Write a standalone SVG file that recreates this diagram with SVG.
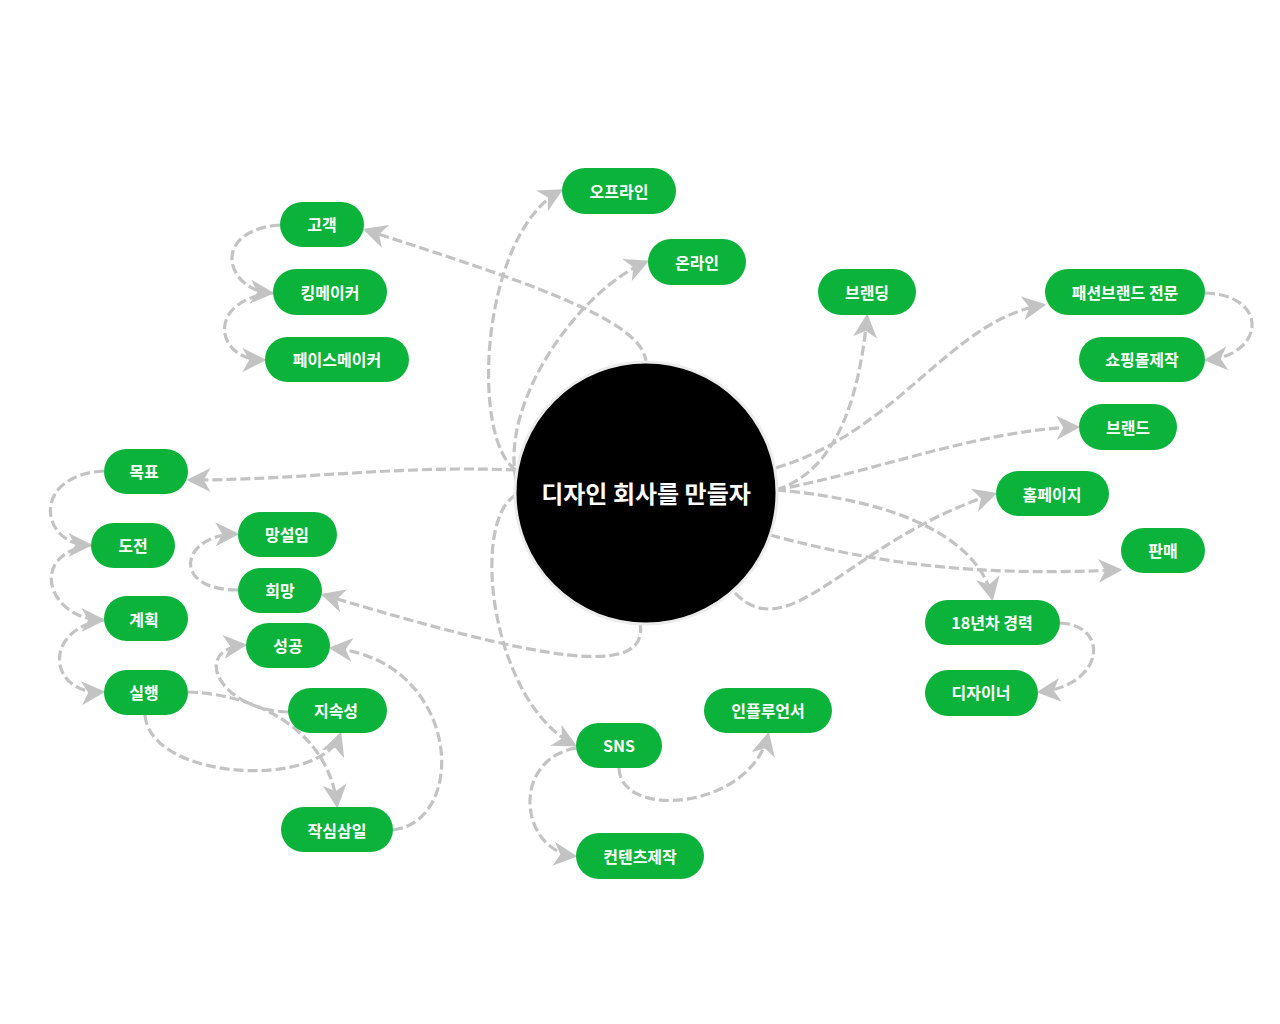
<svg xmlns="http://www.w3.org/2000/svg" width="1280" height="1024" viewBox="0 0 1280 1024">
<defs>
<style>
.n rect{fill:#0bb33a}
.n text{fill:#fff;font-family:"Noto Sans CJK KR","Noto Sans",sans-serif;font-weight:700;font-size:16px;text-anchor:middle;dominant-baseline:central}
.c path{fill:none;stroke:#c3c3c3;stroke-width:3.2;stroke-dasharray:10 4;marker-end:url(#ah)}
</style>
<marker id="ah" viewBox="0 0 14 14" refX="12" refY="7" markerWidth="7.5" markerHeight="7.5" markerUnits="strokeWidth" orient="auto">
<path d="M0,0 L14,7 L0,14 L4,7 z" fill="#c3c3c3"/>
</marker>
</defs>
<rect width="1280" height="1024" fill="#fff"/>
<g class="c" id="connectors">
<path d="M646,363 C646,320 520,280 366,230"/>
<path d="M516,470 C470,440 480,235 560,191"/>
<path d="M516,480 C500,400 580,290 646,262"/>
<path d="M516,470 C400,465 300,480 190,480"/>
<path d="M516,495 C470,520 490,700 574,745"/>
<path d="M640,623 C650,680 540,660 324,595"/>
<path d="M776,490 C840,470 860,390 867,317"/>
<path d="M776,468 C900,430 950,320 1043,305"/>
<path d="M776,490 C880,470 980,430 1077,427"/>
<path d="M735,593 C790,650 850,540 994,494"/>
<path d="M770,535 C900,570 1000,575 1119,570"/>
<path d="M776,490 C900,500 980,540 992,598"/>
<path d="M1205,293 C1270,295 1265,355 1207,360"/>
<path d="M1060,623 C1110,625 1105,685 1040,692"/>
<path d="M280,225 C210,230 225,290 271,293"/>
<path d="M273,293 C205,300 215,360 263,360"/>
<path d="M104,471 C30,475 40,545 89,545"/>
<path d="M91,545 C25,555 50,620 102,620"/>
<path d="M104,620 C40,630 50,695 102,692"/>
<path d="M238,590 C170,590 180,535 236,534"/>
<path d="M288,712 C220,710 190,650 244,645"/>
<path d="M188,692 C270,695 330,740 337,805"/>
<path d="M145,715 C150,780 320,790 340,735"/>
<path d="M393,830 C470,820 460,660 332,648"/>
<path d="M619,768 C620,820 750,810 768,735"/>
<path d="M576,748 C510,760 520,850 574,856"/>
</g>
<g id="center">
<circle cx="646" cy="493" r="131" fill="#000" stroke="#ececec" stroke-width="3"/>
<text x="646" y="492" fill="#fff" font-family="'Noto Sans CJK KR','Noto Sans',sans-serif" font-weight="700" font-size="24" text-anchor="middle" dominant-baseline="central">디자인 회사를 만들자</text>
</g>
<g class="n" id="n-offline"><rect x="562" y="168" width="114" height="46" rx="23"/><text x="619" y="191">오프라인</text></g>
<g class="n" id="n-online"><rect x="648" y="239" width="98" height="46" rx="23"/><text x="697" y="262">온라인</text></g>
<g class="n" id="n-customer"><rect x="280" y="202" width="84" height="45" rx="22.5"/><text x="322" y="224">고객</text></g>
<g class="n" id="n-kingmaker"><rect x="273" y="269" width="114" height="46" rx="23"/><text x="330" y="292">킹메이커</text></g>
<g class="n" id="n-pacemaker"><rect x="265" y="337" width="144" height="45" rx="22.5"/><text x="337" y="359">페이스메이커</text></g>
<g class="n" id="n-branding"><rect x="818" y="269" width="98" height="46" rx="23"/><text x="867" y="292">브랜딩</text></g>
<g class="n" id="n-fashion"><rect x="1045" y="269" width="160" height="46" rx="23"/><text x="1125" y="292">패션브랜드 전문</text></g>
<g class="n" id="n-mall"><rect x="1079" y="337" width="126" height="45" rx="22.5"/><text x="1142" y="359">쇼핑몰제작</text></g>
<g class="n" id="n-brand"><rect x="1079" y="404" width="98" height="46" rx="23"/><text x="1128" y="427">브랜드</text></g>
<g class="n" id="n-homepage"><rect x="996" y="471" width="113" height="45" rx="22.5"/><text x="1052" y="494">홈페이지</text></g>
<g class="n" id="n-sales"><rect x="1121" y="528" width="84" height="45" rx="22.5"/><text x="1163" y="550">판매</text></g>
<g class="n" id="n-career"><rect x="925" y="600" width="135" height="45" rx="22.5"/><text x="992" y="622">18년차 경력</text></g>
<g class="n" id="n-designer"><rect x="925" y="670" width="113" height="46" rx="23"/><text x="981" y="692">디자이너</text></g>
<g class="n" id="n-goal"><rect x="104" y="449" width="84" height="45" rx="22.5"/><text x="144" y="471">목표</text></g>
<g class="n" id="n-challenge"><rect x="91" y="523" width="84" height="45" rx="22.5"/><text x="133" y="545">도전</text></g>
<g class="n" id="n-plan"><rect x="104" y="596" width="84" height="45" rx="22.5"/><text x="144" y="619">계획</text></g>
<g class="n" id="n-action"><rect x="104" y="670" width="84" height="45" rx="22.5"/><text x="144" y="692">실행</text></g>
<g class="n" id="n-hesitate"><rect x="238" y="512" width="99" height="45" rx="22.5"/><text x="287" y="534">망설임</text></g>
<g class="n" id="n-hope"><rect x="238" y="568" width="84" height="45" rx="22.5"/><text x="280" y="590">희망</text></g>
<g class="n" id="n-success"><rect x="246" y="623" width="84" height="45" rx="22.5"/><text x="288" y="645">성공</text></g>
<g class="n" id="n-persist"><rect x="288" y="688" width="99" height="45" rx="22.5"/><text x="336" y="710">지속성</text></g>
<g class="n" id="n-3days"><rect x="281" y="807" width="112" height="45" rx="22.5"/><text x="337" y="830">작심삼일</text></g>
<g class="n" id="n-sns"><rect x="576" y="723" width="86" height="45" rx="22.5"/><text x="619" y="745">SNS</text></g>
<g class="n" id="n-influencer"><rect x="704" y="688" width="128" height="45" rx="22.5"/><text x="768" y="710">인플루언서</text></g>
<g class="n" id="n-content"><rect x="576" y="833" width="128" height="46" rx="23"/><text x="640" y="856">컨텐츠제작</text></g>
</svg>
